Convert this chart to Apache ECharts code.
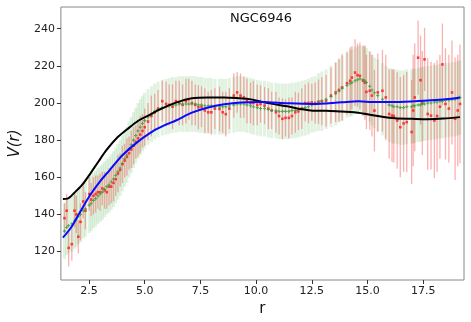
<!DOCTYPE html>
<html>
<head>
<meta charset="utf-8">
<script src="https://cdn.jsdelivr.net/npm/echarts@6/dist/echarts.min.js"></script>
<style>
  html, body { margin: 0; padding: 0; background: #fff; }
  #chart { width: 471px; height: 322px; }
</style>
</head>
<body>
<div id="chart"></div>
<script>
// radii of the measured points (kpc)
const radius = [
  1.40, 1.50, 1.59, 1.73, 1.85, 1.93, 2.02, 2.12, 2.24, 2.34,
  2.51, 2.60, 2.70, 2.80, 2.90, 3.00, 3.10, 3.20, 3.30, 3.40,
  3.50, 3.60, 3.70, 3.80, 3.90, 4.00, 4.10, 4.20, 4.30, 4.40,
  4.50, 4.60, 4.70, 4.80, 4.90, 5.00, 5.15, 5.30, 5.45, 5.60,
  5.79, 5.96, 6.10, 6.25, 6.40, 6.55, 6.70, 6.85, 6.98, 7.12,
  7.27, 7.41, 7.55, 7.70, 7.85, 7.99, 8.15, 8.36, 8.50, 8.64,
  8.80, 9.00, 9.15, 9.30, 9.45, 9.59, 9.75, 9.88, 10.05, 10.20,
  10.38, 10.55, 10.70, 10.89, 11.03, 11.18, 11.32, 11.47, 11.61, 11.76,
  11.90, 12.05, 12.20, 12.35, 12.50, 12.65, 12.80, 12.95, 13.14, 13.36,
  13.57, 13.72, 13.86, 14.08, 14.22, 14.30, 14.44, 14.55, 14.66, 14.80,
  14.88, 14.95, 15.10, 15.20, 15.31, 15.46, 15.67, 15.82, 15.97, 16.10,
  16.18, 16.33, 16.47, 16.62, 16.76, 16.98, 17.05, 17.12, 17.27, 17.38,
  17.46, 17.56, 17.70, 17.85, 18.00, 18.12, 18.25, 18.36, 18.50, 18.65,
  18.79, 18.93, 19.05, 19.15
]

// observed velocities (red) and their errors
const vObs = [
  138, 142, 122, 124, 142, 140, 128, 136, 147, 142,
  151, 148, 150, 151, 152, 152, 154, 153, 152, 155,
  155, 157, 159, 162, 164, 167, 169, 171, 173, 175,
  177, 179, 181, 183, 185, 187, 190, 193, 195, 197,
  201, 199.5, 199, 198, 201, 200, 199, 201, 202, 200,
  199, 197.7, 198, 196, 195, 195, 197, 196.8, 195, 194,
  197, 204, 205.7, 204, 203, 201, 200, 200, 199, 199.5,
  198.6, 197, 196, 195, 193, 191.5, 192, 192, 193, 195,
  195.5, 197, 200, 200, 200.4, 200, 200.7, 201, 201.2, 204,
  205.7, 207, 208.4, 210.7, 212, 213.7, 216.4, 215, 214.6, 212,
  211, 206, 206.6, 204, 195.9, 205.7, 206.6, 203, 194.1, 193.2,
  193, 190.6, 187, 189, 189.7, 184.4, 196, 203, 224.4, 212.3,
  200, 223.5, 194.1, 193.2, 190.6, 193, 198, 220.8, 199.5, 197,
  205.7, 191.5, 196, 199.5
]
const eObs = [
  8, 9, 10, 9, 9, 10, 9, 10, 9, 10,
  9, 9, 10, 10, 9, 10, 9, 10, 9, 10,
  9, 10, 9, 10, 9, 10, 9, 10, 9, 10,
  10, 9, 10, 10, 9, 10, 10, 11, 10, 10,
  11, 12, 11, 12, 11, 12, 11, 12, 11, 12,
  11, 12, 11, 12, 11, 12, 11, 12, 11, 12,
  11, 12, 11, 12, 11, 12, 11, 12, 11, 10,
  10, 11, 10, 11, 10, 11, 10, 11, 10, 11,
  10, 11, 10, 11, 10, 11, 12, 13, 14, 15,
  16, 17, 18, 17, 18, 17, 18, 17, 18, 19,
  20, 20, 21, 22, 22, 21, 22, 23, 24, 25,
  25, 26, 27, 26, 27, 28, 30, 29, 20, 24,
  28, 17, 30, 29, 31, 30, 28, 22, 30, 29,
  28, 33, 30, 32
]

// smoothed velocities (green) and their errors
const vFit = [
  131, 133, 134, 135, 136.5, 137.5, 139, 140, 142, 143,
  145, 146, 147.5, 148.5, 150, 151, 152, 153.5, 155, 156,
  157.5, 159, 161, 163, 165, 167.5, 170, 172, 175, 177.5,
  180, 182.5, 185, 187, 189, 190.5, 192.5, 194, 195.5, 196.5,
  197.5, 198, 198.5, 199, 199, 199.5, 199.5, 199.5, 199.5, 199.5,
  199.5, 199, 199, 198.5, 198.5, 198.5, 198, 198, 198, 198,
  198.5, 199, 199.5, 199.5, 199.5, 199, 198.5, 198, 197.5, 197,
  197, 196.5, 196, 196, 195.5, 195.5, 195.5, 195.5, 196, 196,
  196.5, 197, 197.5, 198, 199, 199.5, 200.5, 201, 202, 203.5,
  205, 206.5, 208, 209.5, 210.5, 211, 212, 212.5, 213, 212.5,
  212, 211, 209, 207, 205.5, 204, 202, 200.5, 199, 198.5,
  198, 198, 197.5, 197.5, 198, 198, 198.5, 198.5, 199, 199,
  199.5, 199.5, 200, 200, 200.5, 200.5, 201, 201, 201.5, 201.5,
  202, 202, 202.5, 203
]
const eFit = [
  15, 15, 15, 15, 15, 15, 15, 15, 15, 15,
  15, 15, 15, 15, 15, 15, 15, 15, 15, 15,
  15, 15, 15, 15, 15, 15, 15, 15, 15, 15,
  15, 15, 15, 15, 15, 15, 15, 15, 15, 15,
  15, 15, 15, 15, 15, 15, 15, 15, 15, 15,
  15, 15, 15, 15, 15, 15, 15, 15, 15, 15,
  15, 15, 15, 15, 15, 15, 15, 15, 15, 15,
  15, 15, 15, 15, 15, 15, 15, 15, 15, 15,
  15, 15, 15, 15, 15, 15, 15.5, 16, 16, 16.5,
  17, 17, 17.5, 17.5, 18, 18, 18, 18, 18, 18,
  18.5, 18.5, 19, 19, 19, 19.5, 19.5, 19.5, 20, 20,
  20, 20, 20, 20, 20, 20, 20, 20, 20, 20,
  20, 20, 20, 20, 20, 20, 20, 20, 20, 20,
  20, 20, 20, 20
]

// black model curve
const rBlack = [1.33, 1.54, 1.83, 2.2, 2.56, 2.92, 3.28, 3.72, 4.23, 4.73, 5.2, 5.67, 6.4, 7.12, 7.85,
  8.57, 9.3, 9.7, 10.24, 10.8, 11.4, 11.98, 12.54, 13.14, 13.84, 14.4, 14.88, 15.53, 16.24, 17.0,
  17.7, 18.4, 19.15]
const vBlack = [148.3, 148.5, 151.5, 156, 162, 168.4, 174.6, 180.8, 186, 190.6, 193.5, 196.5, 200.2, 202.6, 203,
  203, 202.5, 202.1, 200.7, 199.4, 198.2, 196.8, 195.9, 195.9, 195.4, 195, 194.2, 192.9, 191.8, 191.5,
  191.3, 191.6, 192.4]

// blue model curve
const rBlue = [1.33, 1.69, 2.12, 2.56, 2.99, 3.43, 4.0, 4.73, 5.46, 5.67, 6.0, 6.4, 7.12, 7.85, 8.57,
  9.3, 10.24, 11.4, 12.54, 13.84, 14.6, 15.2, 16.25, 17.7, 18.5, 19.15]
const vBlue = [127.5, 132.8, 141.7, 150.6, 157.7, 163.9, 171.9, 179.5, 185.5, 186.8, 188.6, 190.6, 194.8, 197.6, 199.3,
  200.3, 200.6, 199.9, 199.5, 200.4, 200.9, 200.6, 200.5, 201.4, 202, 203]

const xTicks = [2.5, 5.0, 7.5, 10.0, 12.5, 15.0, 17.5]
const yTicks = [120, 140, 160, 180, 200, 220, 240]

const chart = echarts.init(document.getElementById('chart'))

function errorBars (vals, errs, color, width) {
  return {
    type: 'custom',
    silent: true,
    clip: true,
    encode: { x: 0, y: [1, 2] },
    data: radius.map((r, i) => [r, vals[i] - errs[i], vals[i] + errs[i]]),
    renderItem (params, api) {
      const p1 = api.coord([api.value(0), api.value(1)])
      const p2 = api.coord([api.value(0), api.value(2)])
      return {
        type: 'line',
        shape: { x1: p1[0], y1: p1[1], x2: p2[0], y2: p2[1] },
        style: { stroke: color, lineWidth: width }
      }
    },
    z: 1
  }
}

const tickFont = { fontFamily: 'DejaVu Sans', fontSize: 11, color: '#222' }

chart.setOption({
  animation: false,
  title: {
    text: 'NGC6946',
    left: 256,
    top: 7,
    textAlign: 'center',
    textStyle: { fontFamily: 'DejaVu Sans', fontSize: 13, fontWeight: 'normal', color: '#111' }
  },
  grid: {
    left: 48, right: 7, top: 7, bottom: 39,
    show: true, borderColor: '#888', borderWidth: 1
  },
  xAxis: {
    type: 'value',
    min: 1.24,
    max: 19.33,
    name: 'r',
    nameLocation: 'middle',
    nameGap: 22,
    nameTextStyle: { fontFamily: 'DejaVu Sans', fontSize: 15, color: '#111' },
    splitLine: { show: false },
    axisLine: { show: false },
    axisTick: { show: true, length: 4, customValues: xTicks, lineStyle: { color: '#333' } },
    axisLabel: Object.assign({ customValues: xTicks, margin: 6, formatter: v => v.toFixed(1) }, tickFont)
  },
  yAxis: {
    type: 'value',
    min: 104.7,
    max: 251.7,
    name: 'V(r)',
    nameLocation: 'middle',
    nameGap: 30,
    nameTextStyle: { fontFamily: 'DejaVu Sans', fontSize: 15, fontStyle: 'italic', color: '#111' },
    splitLine: { show: false },
    axisLine: { show: false },
    axisTick: { show: true, length: 4, customValues: yTicks, lineStyle: { color: '#333' } },
    axisLabel: Object.assign({ customValues: yTicks, margin: 6 }, tickFont)
  },
  series: [
    errorBars(vFit, eFit, 'rgba(80,175,80,0.17)', 3),
    errorBars(vObs, eObs, 'rgba(245,50,50,0.38)', 1.3),
    {
      type: 'scatter',
      data: radius.map((r, i) => [r, vObs[i]]),
      symbol: 'rect',
      symbolSize: 2.6,
      itemStyle: { color: '#ff1a1a' },
      silent: true,
      z: 3
    },
    {
      type: 'scatter',
      data: radius.map((r, i) => [r, vFit[i]]),
      symbol: 'path://M1,0H2V1H3V2H2V3H1V2H0V1H1Z',
      symbolSize: 3.2,
      itemStyle: { color: '#3c9a3c' },
      silent: true,
      z: 4
    },
    {
      type: 'line',
      data: rBlack.map((r, i) => [r, vBlack[i]]),
      showSymbol: false,
      smooth: 0.3,
      lineStyle: { color: '#000', width: 2 },
      z: 5
    },
    {
      type: 'line',
      data: rBlue.map((r, i) => [r, vBlue[i]]),
      showSymbol: false,
      smooth: 0.3,
      lineStyle: { color: '#0a0aff', width: 2 },
      z: 6
    }
  ]
})
</script>
</body>
</html>
